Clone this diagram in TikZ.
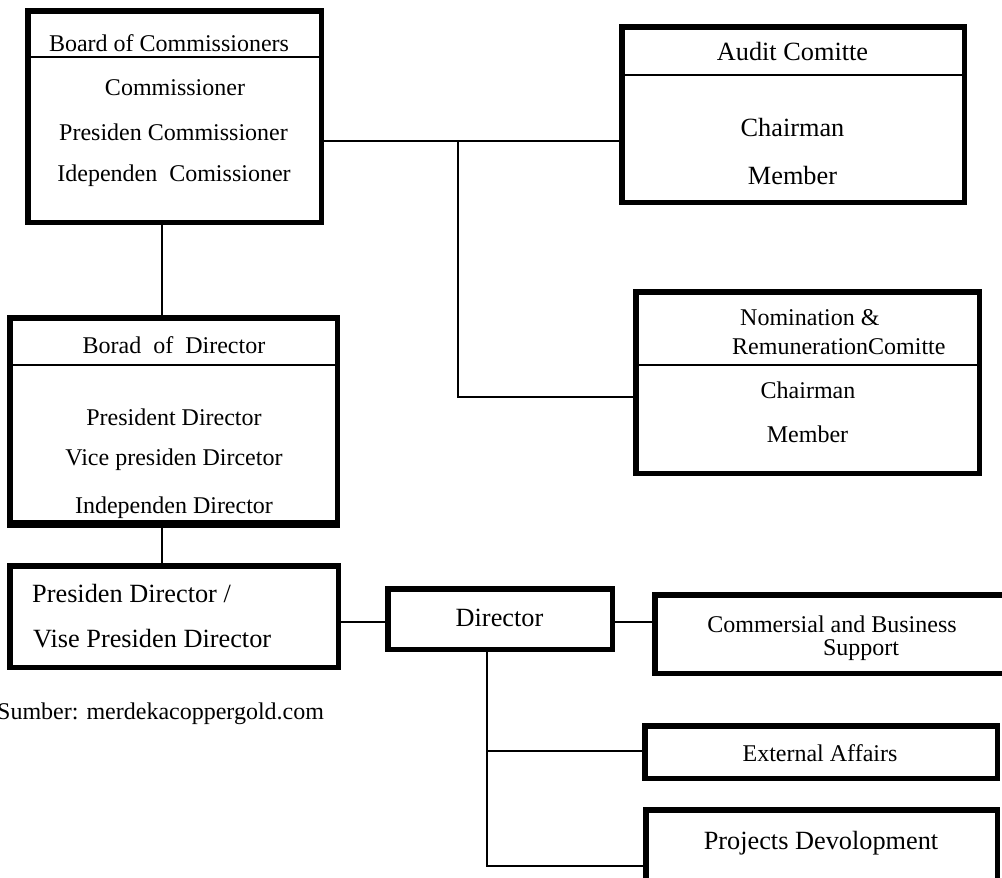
\documentclass[tikz,border=0pt]{standalone}
\usepackage{fontspec}
\setmainfont{Liberation Serif}
\begin{document}
\begin{tikzpicture}[x=1pt,y=-1pt,
  box/.style={draw=black, line width=5.5pt, inner sep=0pt, fill=white},
  link/.style={draw=black, line width=1.8pt},
  rule/.style={draw=black, line width=1.6pt},
  lbl/.style={inner sep=0pt, font=\fontsize{24}{28}\selectfont},
  big/.style={inner sep=0pt, font=\fontsize{26.3}{30}\selectfont}]
\useasboundingbox (0,0) rectangle (1002,878);

% boxes
\node[box, minimum width=293.5pt, minimum height=211.5pt] (boc) at (174.5,116.5) {};
\node[box, minimum width=342.5pt, minimum height=175.5pt] (audit) at (793,114.5) {};
\node[box, minimum width=343.5pt, minimum height=181.5pt] (nom) at (807.5,382.5) {};
\node[box, minimum width=327.5pt, minimum height=204.5pt] (bod) at (173.5,420) {};
\node[box, minimum width=328.5pt, minimum height=101.5pt] (pres) at (174,616.5) {};
\node[box, minimum width=224.5pt, minimum height=60.5pt] (dir) at (500,619) {};
\node[box, minimum width=354.5pt, minimum height=78.5pt] (com) at (832,634) {};
\node[box, minimum width=352.5pt, minimum height=52.5pt] (ext) at (821,752) {};
\node[box, minimum width=351.5pt, minimum height=82.5pt] (proj) at (821.5,851) {};

% header rules
\draw[rule] (boc.west |- 0,57) -- (boc.east |- 0,57);
\draw[rule] (audit.west |- 0,75) -- (audit.east |- 0,75);
\draw[rule] (nom.west |- 0,365) -- (nom.east |- 0,365);
\draw[rule] (bod.west |- 0,365) -- (bod.east |- 0,365);

% Board of Commissioners
\node[lbl] (bocT) at (169,43) {Board of Commissioners};
\node[lbl] (boc1) at (175,88) {Commissioner};
\node[lbl] (boc2) at (173.5,132) {Presiden Commissioner};
\node[lbl] (boc3) at (174,176) {Idependen\ \ Comissioner};

% Audit Comitte
\node[big] (audT) at (792.5,52) {Audit Comitte};
\node[big] (aud1) at (792.5,128) {Chairman};
\node[big] (aud2) at (792.5,176) {Member};

% Nomination & Remuneration Comitte
\node[lbl, anchor=west] (nomT1) at (740,318) {Nomination \&};
\node[lbl, anchor=west] (nomT2) at (732,347) {RemunerationComitte};
\node[lbl] (nom1) at (808,390) {Chairman};
\node[lbl] (nom2) at (807.5,434) {Member};

% Board of Director (last line runs into the bottom border)
\node[lbl] (bodT) at (174,345) {Borad\ \ of\ \ Director};
\node[lbl] (bod1) at (174,417) {President Director};
\node[lbl] (bod2) at (174,460) {Vice presiden Dircetor};
\node[lbl] (bod3) at (174,508) {Independen Director};
\draw[draw=black, line width=5.5pt] (bod.south west) -- (bod.south east);

% President Director / Vice President Director
\node[big, anchor=west] (pres1) at (32,593) {Presiden Director /};
\node[big, anchor=west] (pres2) at (33,639) {Vise Presiden Director};

% Director and its units
\node[big] (dirT) at (499.5,618) {Director};
\node[lbl] (com1) at (832,624) {Commersial and Business};
\node[lbl] (com2) at (861,650) {Support};
\node[lbl] (extT) at (820,753) {External Affairs};
\node[big] (projT) at (821,843) {Projects Devolopment};

% source note
\node[lbl, anchor=west] (src) at (-3,714) {Sumber: merdekacoppergold.com};

% junction points
\coordinate (jA) at (458,141);
\coordinate (jN) at (458,397);
\coordinate (vL) at (162,0);
\coordinate (jP) at (0,622);
\coordinate (vD) at (487,0);
\coordinate (jE) at (487,751);
\coordinate (jX) at (487,866);

% connectors
\draw[link] (boc.east |- jA) -- (audit.west |- jA);
\draw[link] (jA) -- (jN) -- (nom.west |- jN);
\draw[link] (boc.south -| vL) -- (bod.north -| vL);
\draw[link] (bod.south -| vL) -- (pres.north -| vL);
\draw[link] (pres.east |- jP) -- (dir.west |- jP);
\draw[link] (dir.east |- jP) -- (com.west |- jP);
\draw[link] (dir.south -| vD) -- (jX) -- (proj.west |- jX);
\draw[link] (jE) -- (ext.west |- jE);
\end{tikzpicture}
\end{document}
